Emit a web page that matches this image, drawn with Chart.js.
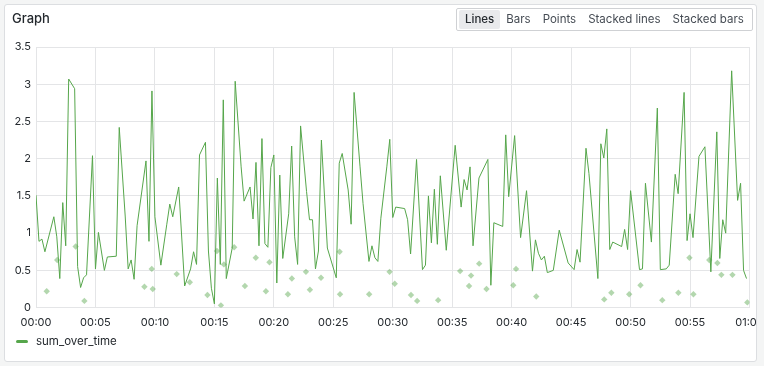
<!DOCTYPE html>
<html>
<head>
<meta charset="utf-8">
<script src="https://cdn.jsdelivr.net/npm/chart.js@4"></script>
<style>
  html, body { margin: 0; padding: 0; background: #f4f5f5; width: 764px; height: 366px; overflow: hidden; font-family: Inter, "Noto Sans", sans-serif; }
  .panel { position: absolute; left: 4px; top: 4px; width: 751px; height: 356px; border: 1px solid #dcdee1; border-radius: 3px; background: #fff; overflow: hidden; }
  .title { position: absolute; left: 7px; top: 5px; font-size: 13px; font-weight: 500; color: #24292e; }
  .modes { position: absolute; left: 451px; top: 3px; height: 21px; border: 1px solid #cfd1d4; border-radius: 2px; display: flex; align-items: center; padding: 0 2px; font-size: 11.5px; color: #464c54; white-space: nowrap; }
  .modes span { padding: 2px 6px; line-height: 15px; white-space: nowrap; }
  .modes span.active { background: #e9eaec; color: #24292e; font-weight: 500; border-radius: 2px; }
  .chartBox { position: absolute; left: -5px; top: -5px; width: 790px; height: 340px; }
  .legend { position: absolute; left: 11px; top: 329px; font-size: 11.5px; color: #24292e; display: flex; align-items: center; }
  .legend i { display: inline-block; width: 12px; height: 3px; background: #56a64b; border-radius: 2px; margin-right: 8px; }
</style>
</head>
<body>
<div class="panel">
  <div class="chartBox"><canvas id="graph" width="790" height="340"></canvas></div>
  <div class="title">Graph</div>
  <div class="modes">
    <span class="active">Lines</span><span>Bars</span><span>Points</span><span>Stacked lines</span><span>Stacked bars</span>
  </div>
  <div class="legend"><i></i>sum_over_time</div>
</div>
<script>
// time offsets in seconds from 00:00
const lineSeconds = [0,15,30,45,90,105,120,135,150,165,195,210,225,240,255,285,300,315,345,360,
  405,420,450,465,480,495,510,555,570,585,600,630,660,675,690,720,750,780,795,810,
  825,855,870,885,900,915,930,945,960,990,1005,1035,1050,1080,1095,1110,1125,1140,1155,1170,
  1185,1200,1215,1230,1245,1275,1290,1305,1320,1335,1365,1380,1395,1410,1425,1440,1470,1515,1530,1545,
  1575,1590,1605,1635,1650,1680,1695,1710,1725,1740,1770,1785,1800,1815,1860,1875,1890,1920,1950,1965,
  1980,1995,2010,2025,2040,2070,2115,2145,2160,2175,2190,2205,2235,2280,2295,2310,2355,2370,2385,2415,
  2445,2475,2505,2520,2535,2550,2565,2580,2610,2640,2685,2715,2730,2745,2775,2790,2835,2850,2865,2880,
  2895,2910,2955,2970,2985,3000,3045,3060,3075,3105,3135,3150,3180,3195,3225,3240,3270,3285,3300,3315,
  3345,3375,3405,3435,3450,3465,3480,3510,3540,3555,3570,3585];
const lineValues = [1.51,0.89,0.92,0.75,1.22,0.95,0.39,1.41,0.83,3.07,2.94,0.55,0.27,0.40,0.44,2.04,0.52,1.01,0.50,0.68,
  0.69,2.42,1.23,0.52,0.64,0.38,1.10,1.97,0.89,2.91,1.22,0.57,1.12,1.39,1.22,1.62,0.29,0.52,0.75,0.58,
  2.05,2.22,0.76,0.26,0.05,1.74,0.58,2.79,0.39,0.80,3.04,1.89,1.43,1.62,1.19,1.95,0.83,2.27,0.86,0.81,
  1.88,2.05,0.33,1.78,0.66,1.26,2.17,0.95,0.58,2.44,1.56,1.18,1.18,0.52,0.76,2.25,0.80,0.40,1.94,2.07,
  1.58,1.12,2.89,1.89,1.40,0.62,0.83,0.67,0.62,1.20,1.89,2.26,1.21,1.35,1.33,1.18,0.72,1.99,0.51,0.57,
  1.50,0.87,1.59,0.85,1.77,0.77,2.18,1.35,1.72,1.58,1.89,0.83,1.74,1.99,0.30,1.14,1.09,2.32,1.49,2.31,
  0.94,1.57,0.49,0.91,0.73,0.64,0.69,0.47,0.50,1.04,0.60,0.51,0.78,0.61,2.14,1.80,0.39,2.20,2.01,2.40,
  0.78,0.88,0.82,1.05,0.78,1.57,0.51,0.52,1.67,0.88,2.68,0.51,0.52,0.57,1.79,1.53,2.89,0.90,1.26,0.94,
  2.03,2.16,0.48,2.36,0.66,1.18,1.00,3.18,1.44,1.67,0.50,0.39];

// isolated points (drawn as diamonds)
const dotSeconds = [54,107,200,244,547,584,589,710,776,865,913,933,948,1000,1054,1109,1160,1178,1271,1291,
  1362,1382,1438,1532,1534,1681,1784,1810,1892,1923,2029,2140,2185,2195,2236,2273,2408,2422,2524,2867,
  2903,2993,3050,3160,3241,3297,3317,3397,3438,3458,3514,3589];
const dotValues = [0.22,0.64,0.82,0.09,0.28,0.52,0.25,0.45,0.34,0.17,0.76,0.03,0.58,0.81,0.29,0.67,0.22,0.61,0.18,0.39,
  0.48,0.24,0.40,0.75,0.18,0.18,0.48,0.32,0.17,0.09,0.10,0.49,0.29,0.43,0.59,0.25,0.30,0.52,0.15,0.11,
  0.20,0.18,0.30,0.10,0.20,0.67,0.18,0.64,0.60,0.44,0.44,0.07];

const yTicks = [0, 0.5, 1, 1.5, 2, 2.5, 3, 3.5];

const green = '#56a64b';
const gridColor = '#e4e5e7';

function fmtTime(sec) {
  const m = Math.round(sec / 60);
  const h = Math.floor(m / 60);
  return String(h).padStart(2, '0') + ':' + String(m % 60).padStart(2, '0');
}

const ctx = document.getElementById('graph').getContext('2d');
new Chart(ctx, {
  type: 'scatter',
  data: {
    datasets: [
      {
        label: 'sum_over_time',
        data: lineSeconds.map((s, i) => ({ x: s, y: lineValues[i] })),
        showLine: true,
        borderColor: green,
        borderWidth: 1,
        pointRadius: 0,
        tension: 0
      },
      {
        label: 'points',
        data: dotSeconds.map((s, i) => ({ x: s, y: dotValues[i] })),
        showLine: false,
        pointStyle: 'rectRot',
        pointRadius: 3.2,
        backgroundColor: 'rgba(86,166,75,0.45)',
        borderWidth: 0
      }
    ]
  },
  options: {
    responsive: false,
    animation: false,
    layout: { padding: { left: 0, top: 47, right: 40.5, bottom: 8.4 } },
    plugins: { legend: { display: false }, tooltip: { enabled: false } },
    scales: {
      x: {
        type: 'linear',
        min: 0,
        max: 3600,
        grid: { color: gridColor, drawTicks: false },
        border: { color: gridColor },
        afterFit: scale => { scale.height = 24; },
        ticks: {
          stepSize: 300,
          padding: 8,
          color: '#24292e',
          font: { family: 'Inter', size: 11 },
          maxRotation: 0,
          callback: v => fmtTime(v)
        }
      },
      y: {
        min: 0,
        max: 3.5,
        grid: { color: gridColor, drawTicks: false },
        border: { display: false },
        afterFit: scale => { scale.width = 36; },
        afterBuildTicks: scale => { scale.ticks = yTicks.map(v => ({ value: v })); },
        ticks: {
          padding: 5,
          color: '#24292e',
          font: { family: 'Inter', size: 11 },
          callback: v => String(v)
        }
      }
    }
  }
});
</script>
</body>
</html>
